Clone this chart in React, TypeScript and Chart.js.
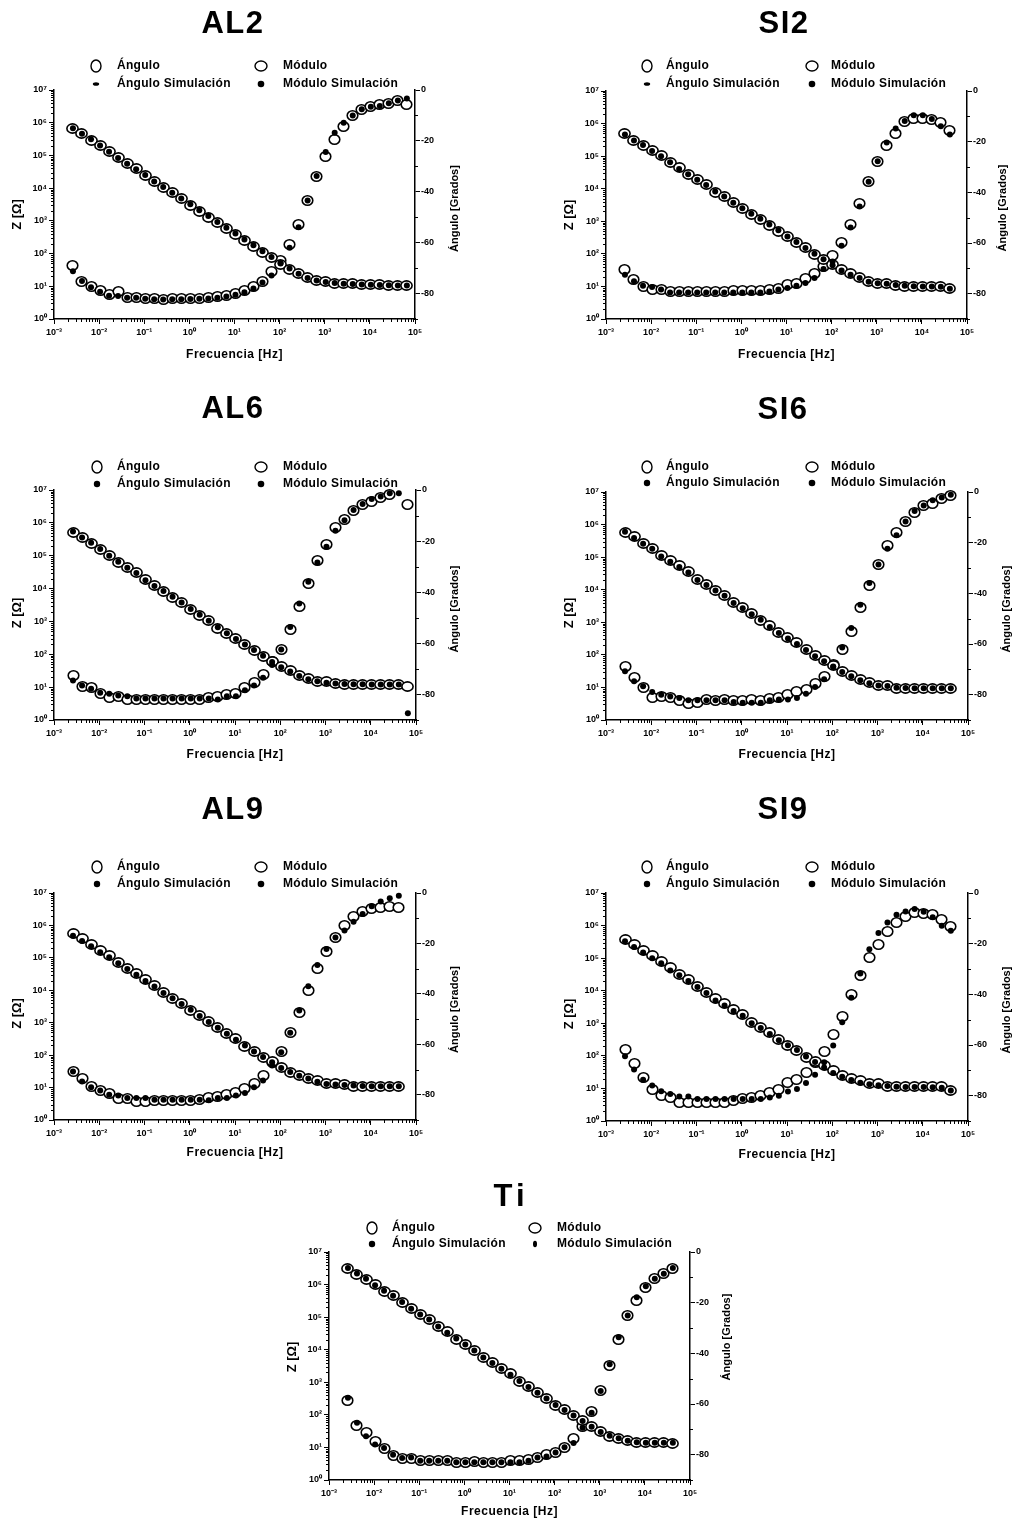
import React, { useEffect, useRef } from 'react';
import { Chart, registerables } from 'chart.js';

Chart.register(...registerables);

// ---------------- DATA ----------------
const FREQ = [0.00263, 0.00417, 0.00661, 0.0105, 0.0166, 0.0263, 0.0417, 0.0661, 0.105, 0.166, 0.263, 0.417, 0.661, 1.05, 1.66, 2.63, 4.17, 6.61, 10.5, 16.6, 26.3, 41.7, 66.1, 105, 166, 263, 417, 661, 1050, 1660, 2630, 4170, 6610, 10500, 16600, 26300, 41700, 66100];

const X_TICKS = [1e-3, 1e-2, 1e-1, 1, 10, 100, 1e3, 1e4, 1e5];
const Z_TICKS = [1, 10, 100, 1e3, 1e4, 1e5, 1e6, 1e7];
const ANG_TICKS = [-80, -60, -40, -20, 0];
const ANG_MINOR = [-90, -70, -50, -30, -10];
const LEGEND_LABELS = ['Ángulo', 'Módulo', 'Ángulo Simulación', 'Módulo Simulación'];
const X_TITLE = 'Frecuencia [Hz]';
const Z_TITLE = 'Z [Ω]';
const ANG_TITLE = 'Ángulo [Grados]';

const AL2_MOD = [6.5e5, 4.6e5, 2.95e5, 1.95e5, 1.32e5, 8.5e4, 5.75e4, 3.9e4, 2.4e4, 1.58e4, 1.07e4, 7.2e3, 4.9e3, 2.9e3, 1.9e3, 1.29e3, 890, 575, 370, 250, 162, 110, 76, 47, 33, 25, 18.6, 15.5, 14.5, 12.3, 12.3, 12.3, 11.5, 11.5, 11.5, 10.7, 10.7, 10.7];
const AL2_MOD_SIM = [6.8e5, 4.6e5, 3.1e5, 2.0e5, 1.3e5, 8.4e4, 5.6e4, 3.8e4, 2.5e4, 1.6e4, 1.08e4, 7.2e3, 4.8e3, 3.2e3, 2.1e3, 1.4e3, 930, 620, 410, 270, 180, 118, 78, 50, 35, 24, 18, 15, 13.5, 12.5, 12, 11.7, 11.4, 11.2, 11, 10.8, 10.6, 10.5];
const AL2_ANG = [-69.0, -75.1, -77.1, -78.8, -80.4, -79.3, -81.4, -81.4, -82.1, -82.1, -82.4, -82.1, -82.1, -82.1, -82.0, -81.7, -81.0, -80.7, -80.0, -78.8, -77.4, -75.4, -71.2, -67.0, -60.7, -52.9, -43.4, -33.8, -26.0, -19.4, -14.2, -10.2, -7.6, -6.6, -5.6, -5.2, -4.1, -5.6];
const AL2_ANG_SIM = [-71.2, -75.1, -77.5, -79.3, -80.9, -81.0, -81.6, -81.6, -82.0, -82.2, -82.3, -82.2, -82.2, -82.1, -82.0, -81.9, -81.6, -81.2, -80.5, -79.5, -78.0, -75.7, -72.9, -68.0, -62.0, -53.9, -43.4, -33.8, -24.4, -16.8, -12.9, -10.0, -7.6, -6.6, -6.3, -5.2, -4.1, -3.3];

const SI2_MOD = [5.1e5, 3.1e5, 2.15e5, 1.5e5, 1.02e5, 6.3e4, 4.4e4, 2.8e4, 1.95e4, 1.35e4, 7.9e3, 5.6e3, 3.8e3, 2.45e3, 1.6e3, 1.15e3, 760, 500, 350, 225, 158, 98, 68, 46, 33, 25, 18.6, 14.5, 12.3, 12.3, 11, 9.8, 9.8, 9.8, 9.8, 9.8, 8.5];
const SI2_MOD_SIM = [4.6e5, 3.0e5, 2.2e5, 1.45e5, 1.0e5, 6.5e4, 4.0e4, 2.8e4, 1.9e4, 1.3e4, 8.2e3, 5.8e3, 3.7e3, 2.5e3, 1.7e3, 1.2e3, 800, 530, 340, 230, 150, 100, 68, 45, 31, 23, 18, 14, 12.5, 12, 11, 10.5, 10.2, 10, 10, 9.8, 8.5];
const SI2_ANG = [-70.3, -74.5, -77.1, -78.4, -78.4, -79.1, -79.1, -79.1, -79.1, -79.1, -79.1, -79.1, -78.8, -78.8, -78.8, -78.8, -78.2, -77.8, -76.5, -75.8, -74.2, -72.1, -69.2, -65.0, -59.8, -52.5, -44.3, -35.8, -27.9, -21.6, -16.8, -12.2, -10.9, -10.9, -11.1, -12.6, -15.7];
const SI2_ANG_SIM = [-72.5, -75.1, -76.9, -77.4, -78.4, -79.5, -79.5, -79.5, -79.5, -79.5, -79.5, -79.5, -79.5, -79.5, -79.5, -79.5, -79.1, -78.4, -77.8, -76.9, -75.8, -73.8, -70.3, -67.3, -61.1, -53.9, -45.6, -35.8, -27.7, -20.3, -14.8, -11.8, -9.6, -9.6, -11.1, -13.9, -17.2];

const AL6_MOD = [5.25e5, 3.47e5, 2.4e5, 1.51e5, 1.02e5, 6.3e4, 4.5e4, 3.0e4, 1.86e4, 1.26e4, 8.3e3, 5.5e3, 3.7e3, 2.3e3, 1.55e3, 1.07e3, 630, 430, 300, 200, 132, 83, 59, 42, 31, 22, 18, 15, 14.5, 12.9, 12, 12, 12, 12, 12, 12, 12, 10.2];
const AL6_MOD_SIM = [5.5e5, 3.6e5, 2.5e5, 1.6e5, 1.0e5, 6.5e4, 4.3e4, 3.0e4, 1.8e4, 1.2e4, 8.5e3, 5.6e3, 3.8e3, 2.4e3, 1.6e3, 1.05e3, 660, 440, 290, 200, 135, 90, 58, 40, 30, 22, 17.5, 15, 13.5, 13, 12.5, 12.3, 12.2, 12.1, 12, 12, 12, 1.6];
const AL6_ANG = [-72.4, -76.7, -77.4, -79.7, -81.3, -80.7, -82.0, -82.0, -82.0, -82.0, -82.0, -82.0, -82.0, -82.0, -82.0, -81.3, -80.7, -80.0, -79.6, -77.4, -75.4, -72.2, -67.2, -62.4, -54.5, -45.6, -36.6, -27.5, -21.2, -14.6, -11.4, -8.1, -5.5, -4.4, -2.9, -1.8, null, -5.5];
const AL6_ANG_SIM = [-74.5, -76.5, -77.8, -79.3, -79.7, -80.4, -80.7, -81.6, -81.6, -81.6, -81.6, -81.6, -81.6, -81.6, -81.6, -81.6, -82.0, -80.7, -80.7, -78.4, -76.5, -73.5, -68.5, -62.4, -53.6, -44.4, -35.9, -28.4, -22.2, -15.9, -11.8, -7.8, -5.5, -3.5, -2.5, -1.3, -1.3, null];

const SI6_MOD = [5.75e5, 4.3e5, 2.6e5, 1.8e5, 1.12e5, 7.8e4, 5.5e4, 3.7e4, 2.1e4, 1.45e4, 9.8e3, 6.6e3, 4.0e3, 2.8e3, 1.86e3, 1.15e3, 780, 490, 350, 240, 145, 95, 68, 47, 30, 23.5, 17.4, 13.8, 11.7, 11.7, 9.5, 9.5, 9.5, 9.5, 9.5, 9.5, 9.5];
const SI6_MOD_SIM = [6.0e5, 3.9e5, 2.6e5, 1.8e5, 1.05e5, 7.2e4, 5.0e4, 3.4e4, 2.0e4, 1.4e4, 9.5e3, 6.5e3, 3.9e3, 2.7e3, 1.75e3, 1.2e3, 720, 470, 320, 215, 140, 90, 64, 44, 30, 22, 16.5, 13.5, 11.5, 11, 9.8, 9.6, 9.5, 9.5, 9.5, 9.5, 9.5];
const SI6_ANG = [-68.7, -73.4, -77.0, -81.3, -80.9, -81.3, -82.2, -83.3, -82.9, -82.0, -82.2, -81.8, -82.2, -82.2, -81.8, -82.2, -81.6, -81.3, -80.0, -78.7, -77.9, -75.7, -72.8, -68.2, -62.1, -54.9, -45.7, -36.8, -28.6, -21.1, -15.8, -11.6, -7.9, -5.5, -4.6, -2.4, -1.3];
const SI6_ANG_SIM = [-70.8, -74.7, -76.7, -78.9, -80.0, -80.7, -81.3, -82.2, -82.2, -82.2, -82.2, -82.2, -82.9, -83.2, -83.2, -83.2, -82.2, -81.9, -81.9, -81.3, -79.6, -77.0, -73.9, -69.1, -61.4, -53.7, -44.5, -35.9, -28.6, -22.4, -17.1, -11.6, -7.5, -5.3, -3.3, -2.2, -1.1];

const AL9_MOD = [5.5e5, 4.0e5, 2.5e5, 1.7e5, 1.15e5, 7.1e4, 4.8e4, 3.2e4, 2.1e4, 1.38e4, 8.5e3, 5.6e3, 4.0e3, 2.45e3, 1.66e3, 1.07e3, 720, 480, 316, 186, 132, 87, 62, 41, 30, 24, 19, 16, 13.2, 13.2, 12.3, 11, 11, 11, 11, 11, 11];
const AL9_MOD_SIM = [4.8e5, 3.3e5, 2.3e5, 1.5e5, 1.05e5, 6.8e4, 4.5e4, 3.0e4, 1.95e4, 1.3e4, 8.3e3, 5.7e3, 3.8e3, 2.5e3, 1.6e3, 1.05e3, 700, 460, 300, 200, 130, 88, 60, 40, 30, 23, 19, 15, 13, 12.5, 12, 11.5, 11.2, 11, 11, 11, 11];
const AL9_ANG = [-70.8, -73.4, -76.7, -78.5, -79.6, -81.6, -81.3, -82.6, -82.6, -82.2, -82.2, -82.2, -82.2, -82.2, -82.0, -80.9, -80.7, -79.9, -78.9, -77.6, -75.4, -72.3, -67.1, -62.8, -55.4, -47.3, -38.7, -30.1, -23.2, -17.6, -12.9, -9.2, -7.4, -6.3, -5.7, -5.3, -5.9];
const AL9_ANG_SIM = [-70.8, -74.7, -77.0, -78.3, -80.0, -80.3, -81.3, -81.3, -81.3, -82.0, -82.0, -82.0, -82.0, -82.0, -82.0, -82.2, -81.3, -81.3, -80.3, -79.3, -77.0, -74.3, -68.4, -63.1, -55.4, -46.6, -37.0, -28.5, -22.2, -17.6, -14.9, -11.4, -8.3, -5.3, -3.4, -2.1, -1.1];

const SI9_MOD = [3.7e5, 2.6e5, 1.7e5, 1.2e5, 7.9e4, 5.0e4, 3.2e4, 2.2e4, 1.38e4, 9.1e3, 5.8e3, 4.0e3, 2.6e3, 1.8e3, 1.07e3, 720, 510, 316, 214, 141, 87, 69, 49, 35, 25, 20, 17, 13.8, 13.8, 11.7, 11.2, 11.2, 11.2, 11.2, 11.2, 11.2, 8.9];
const SI9_MOD_SIM = [3.3e5, 2.2e5, 1.5e5, 1.0e5, 7.0e4, 4.2e4, 3.0e4, 2.0e4, 1.3e4, 8.5e3, 5.0e3, 3.5e3, 2.4e3, 1.7e3, 1.0e3, 720, 470, 300, 210, 150, 95, 65, 44, 30, 23, 18, 15, 13.5, 12.5, 11.8, 11.2, 11, 11, 11, 10.8, 10.5, 8.7];
const SI9_ANG = [-61.8, -67.3, -72.7, -77.4, -79.9, -80.9, -82.6, -82.6, -82.6, -82.6, -82.6, -82.6, -82.0, -81.3, -80.9, -80.0, -78.9, -77.6, -74.7, -73.7, -70.8, -67.1, -62.4, -55.8, -48.6, -40.0, -32.7, -25.5, -20.2, -15.3, -11.6, -9.2, -7.7, -7.9, -8.6, -10.6, -13.3];
const SI9_ANG_SIM = [-64.4, -69.7, -73.7, -76.0, -78.3, -79.3, -80.3, -80.3, -81.3, -81.3, -81.3, -81.3, -81.3, -81.3, -81.3, -81.3, -80.7, -80.0, -78.4, -77.4, -75.0, -71.7, -66.8, -60.2, -51.0, -41.3, -31.8, -22.2, -15.8, -11.6, -8.6, -7.3, -6.3, -7.4, -9.6, -12.9, -14.9];

const TI_MOD = [3.1e6, 2.1e6, 1.4e6, 1.0e6, 6.3e5, 4.7e5, 2.8e5, 1.8e5, 1.23e5, 8.5e4, 5.0e4, 3.5e4, 2.1e4, 1.48e4, 9.8e3, 5.8e3, 4.0e3, 2.6e3, 1.8e3, 1.07e3, 760, 490, 316, 200, 141, 93, 66, 44, 30, 22.4, 19, 16.2, 14.1, 14.1, 14.1, 14.1, 13.2];
const TI_MOD_SIM = [3.2e6, 2.2e6, 1.5e6, 9.5e5, 6.5e5, 4.5e5, 2.9e5, 1.8e5, 1.2e5, 8.5e4, 5.2e4, 3.3e4, 2.2e4, 1.45e4, 9.5e3, 5.8e3, 3.9e3, 2.6e3, 1.7e3, 1.1e3, 720, 480, 320, 200, 140, 95, 65, 43, 30, 23, 19, 16, 14.5, 14, 14, 14, 14];
const TI_ANG = [-58.8, -68.5, -71.4, -74.7, -77.4, -80.4, -81.7, -81.7, -82.4, -82.4, -82.4, -82.4, -83.0, -83.0, -82.6, -83.0, -83.0, -83.0, -82.4, -82.4, -82.0, -81.1, -80.0, -79.1, -77.1, -73.8, -69.0, -62.8, -54.6, -44.7, -34.6, -25.1, -19.2, -13.9, -10.6, -8.6, -6.6];
const TI_ANG_SIM = [-57.5, -67.4, -72.7, -76.0, -77.4, -80.0, -81.3, -81.1, -82.4, -82.4, -82.4, -82.4, -83.0, -83.0, -83.0, -83.0, -83.0, -83.0, -83.0, -83.0, -82.4, -81.1, -80.7, -79.1, -77.1, -75.4, -69.4, -63.5, -54.9, -44.3, -33.7, -25.1, -17.9, -13.5, -10.6, -8.6, -6.3];

// ---------------- LAYOUT ----------------
type Panel = {
  title: string;
  mod: (number | null)[]; modSim: (number | null)[]; ang: (number | null)[]; angSim: (number | null)[];
  plot: [number, number, number, number];
  tx: number; ty: number;
  rows: [number, number]; marks: [number, number]; texts: [number, number];
  zy: number; ax: number; ay: number; fy: number; xh: number; dash: boolean; ti: boolean;
};

const PANELS: Panel[] = [
  { title: 'AL2', mod: AL2_MOD, modSim: AL2_MOD_SIM, ang: AL2_ANG, angSim: AL2_ANG_SIM, plot: [54, 90, 415, 319], tx: 233, ty: 24, rows: [66, 84], marks: [96, 261], texts: [117, 283], zy: 10, ax: 40, ay: 4, fy: 36, xh: 44, dash: true, ti: false },
  { title: 'SI2', mod: SI2_MOD, modSim: SI2_MOD_SIM, ang: SI2_ANG, angSim: SI2_ANG_SIM, plot: [606, 91, 967, 319], tx: 784, ty: 24, rows: [66, 84], marks: [647, 812], texts: [666, 831], zy: 10, ax: 36, ay: 3, fy: 36, xh: 44, dash: true, ti: false },
  { title: 'AL6', mod: AL6_MOD, modSim: AL6_MOD_SIM, ang: AL6_ANG, angSim: AL6_ANG_SIM, plot: [54, 490, 416, 720], tx: 233, ty: 409, rows: [467, 484], marks: [97, 261], texts: [117, 283], zy: 8, ax: 39, ay: 4, fy: 35, xh: 44, dash: false, ti: false },
  { title: 'SI6', mod: SI6_MOD, modSim: SI6_MOD_SIM, ang: SI6_ANG, angSim: SI6_ANG_SIM, plot: [606, 492, 968, 720], tx: 783, ty: 410, rows: [467, 483], marks: [647, 812], texts: [666, 831], zy: 7, ax: 39, ay: 3, fy: 35, xh: 44, dash: false, ti: false },
  { title: 'AL9', mod: AL9_MOD, modSim: AL9_MOD_SIM, ang: AL9_ANG, angSim: AL9_ANG_SIM, plot: [54, 893, 416, 1120], tx: 233, ty: 810, rows: [867, 884], marks: [97, 261], texts: [117, 283], zy: 7, ax: 39, ay: 3, fy: 33, xh: 44, dash: false, ti: false },
  { title: 'SI9', mod: SI9_MOD, modSim: SI9_MOD_SIM, ang: SI9_ANG, angSim: SI9_ANG_SIM, plot: [606, 893, 968, 1121], tx: 783, ty: 810, rows: [867, 884], marks: [647, 812], texts: [666, 831], zy: 7, ax: 39, ay: 3, fy: 34, xh: 44, dash: false, ti: false },
  { title: 'Ti', mod: TI_MOD, modSim: TI_MOD_SIM, ang: TI_ANG, angSim: TI_ANG_SIM, plot: [329, 1252, 690, 1480], tx: 511, ty: 1197, rows: [1228, 1244], marks: [372, 535], texts: [392, 557], zy: -9, ax: 37, ay: -29, fy: 32, xh: 40, dash: false, ti: true },
];

const FONT = '"Liberation Sans", Arial, Helvetica, sans-serif';
const SUP: Record<string, string> = { '-': '⁻', '0': '⁰', '1': '¹', '2': '²', '3': '³', '4': '⁴', '5': '⁵', '6': '⁶', '7': '⁷', '8': '⁸', '9': '⁹' };
const powLabel = (v: number) => '10' + String(Math.round(Math.log10(v))).split('').map((c) => SUP[c] || c).join('');

function makeEllipse(rx: number, ry: number, lw: number) {
  const c = document.createElement('canvas');
  c.width = Math.ceil(2 * rx + lw + 2);
  c.height = Math.ceil(2 * ry + lw + 2);
  const g = c.getContext('2d')!;
  g.beginPath();
  g.ellipse(c.width / 2, c.height / 2, rx, ry, 0, 0, Math.PI * 2);
  g.fillStyle = '#fff';
  g.fill();
  g.lineWidth = lw;
  g.strokeStyle = '#000';
  g.stroke();
  return c;
}

function drawMark(ctx: CanvasRenderingContext2D, x: number, y: number, rx: number, ry: number, filled: boolean) {
  ctx.beginPath();
  ctx.ellipse(x, y, rx, ry, 0, 0, Math.PI * 2);
  if (filled) {
    ctx.fillStyle = '#000';
    ctx.fill();
  } else {
    ctx.fillStyle = '#fff';
    ctx.fill();
    ctx.lineWidth = 1.4;
    ctx.strokeStyle = '#000';
    ctx.stroke();
  }
}

const toPts = (vals: (number | null)[]) =>
  vals.map((v, i) => (v == null ? null : { x: FREQ[i], y: v })).filter((p) => p !== null) as { x: number; y: number }[];

function BodePanel({ p }: { p: Panel }) {
  const ref = useRef<HTMLCanvasElement>(null);
  const [l, t, r, b] = p.plot;
  const cl = l - 54;
  const ct = Math.max(0, p.ty - 22);
  const cw = 54 + (r - l) + 47;
  const ch = b + p.xh - ct;

  useEffect(() => {
    const canvas = ref.current!;
    const modImg = makeEllipse(5.6, 4.6, 1.6);
    const angImg = makeEllipse(5.3, 4.7, 1.6);

    const crisp = {
      id: 'crispPoints',
      beforeDatasetsDraw(chart: any) { chart.ctx.imageSmoothingEnabled = false; },
      afterDatasetsDraw(chart: any) { chart.ctx.imageSmoothingEnabled = true; },
    };

    const deco = {
      id: 'bodeDeco',
      afterDraw(chart: any) {
        const ctx: CanvasRenderingContext2D = chart.ctx;
        const { left, right, top, bottom } = chart.chartArea;
        const xs = chart.scales.x, ys = chart.scales.y, y1 = chart.scales.y1;
        ctx.save();
        ctx.strokeStyle = '#000';
        ctx.lineWidth = 1;
        // minor ticks
        for (let d = -3; d < 5; d++) {
          for (let m = 2; m < 10; m++) {
            const px = Math.round(xs.getPixelForValue(m * Math.pow(10, d))) + 0.5;
            ctx.beginPath(); ctx.moveTo(px, bottom); ctx.lineTo(px, bottom + 3); ctx.stroke();
          }
        }
        for (let d = 0; d < 7; d++) {
          for (let m = 2; m < 10; m++) {
            const py = Math.round(ys.getPixelForValue(m * Math.pow(10, d))) + 0.5;
            ctx.beginPath(); ctx.moveTo(left - 3, py); ctx.lineTo(left, py); ctx.stroke();
          }
        }
        ANG_MINOR.forEach((v) => {
          const py = Math.round(y1.getPixelForValue(v)) + 0.5;
          ctx.beginPath(); ctx.moveTo(right, py); ctx.lineTo(right + 3, py); ctx.stroke();
        });

        ctx.fillStyle = '#000';
        // title
        ctx.font = `bold 31px ${FONT}`;
        (ctx as any).letterSpacing = p.ti ? '4px' : '1.5px';
        ctx.textAlign = 'center';
        ctx.textBaseline = 'middle';
        ctx.fillText(p.title, p.tx - cl, p.ty - ct);

        // legend
        const [r1, r2] = p.rows.map((v) => v - ct);
        const [m1, m2] = p.marks.map((v) => v - cl);
        const [t1, t2] = p.texts.map((v) => v - cl);
        drawMark(ctx, m1, r1, 5, 6, false);
        drawMark(ctx, m2, r1, 6, 5, false);
        if (p.dash) drawMark(ctx, m1, r2, 3.2, 1.8, true);
        else drawMark(ctx, m1, r2, 3.2, 3.2, true);
        if (p.ti) drawMark(ctx, m2, r2, 2, 3.3, true);
        else drawMark(ctx, m2, r2, 3.3, 3.3, true);
        ctx.fillStyle = '#000';
        ctx.font = `bold 12px ${FONT}`;
        (ctx as any).letterSpacing = '0.3px';
        ctx.textAlign = 'left';
        ctx.fillText(LEGEND_LABELS[0], t1, r1);
        ctx.fillText(LEGEND_LABELS[1], t2, r1);
        ctx.fillText(LEGEND_LABELS[2], t1, r2);
        ctx.fillText(LEGEND_LABELS[3], t2, r2);

        // axis titles
        const midY = (top + bottom) / 2;
        ctx.textAlign = 'center';
        ctx.font = `bold 12px ${FONT}`;
        (ctx as any).letterSpacing = '0.5px';
        ctx.fillText(X_TITLE, (left + right) / 2, bottom + p.fy);

        (ctx as any).letterSpacing = '0px';
        ctx.font = `bold 13px ${FONT}`;
        ctx.save();
        ctx.translate(left - 37, midY + p.zy);
        ctx.rotate(-Math.PI / 2);
        ctx.fillText(Z_TITLE, 0, 0);
        ctx.restore();

        ctx.font = `bold 11px ${FONT}`;
        ctx.save();
        ctx.translate(right + p.ax, midY + p.ay);
        ctx.rotate(-Math.PI / 2);
        ctx.fillText(ANG_TITLE, 0, 0);
        ctx.restore();

        ctx.restore();
      },
    };

    const tickFont = { family: FONT, size: 9, weight: 'bold' as const };
    const grid = { display: true, drawOnChartArea: false, drawTicks: true, tickLength: 5, color: '#000', lineWidth: 1 };
    const border = { display: true, color: '#000', width: 1.5 };
    const simStyle = { pointStyle: 'circle', pointRadius: 3, pointBackgroundColor: '#000', pointBorderColor: '#000', pointBorderWidth: 0 };

    const chart = new Chart(canvas, {
      type: 'scatter',
      data: {
        datasets: [
          { label: LEGEND_LABELS[3], data: toPts(p.modSim), yAxisID: 'y', order: 0, clip: false, ...simStyle } as any,
          { label: LEGEND_LABELS[2], data: toPts(p.angSim), yAxisID: 'y1', order: 0, clip: false, ...simStyle } as any,
          { label: LEGEND_LABELS[1], data: toPts(p.mod), yAxisID: 'y', order: 1, clip: false, pointStyle: modImg, pointRadius: 6 } as any,
          { label: LEGEND_LABELS[0], data: toPts(p.ang), yAxisID: 'y1', order: 1, clip: false, pointStyle: angImg, pointRadius: 6 } as any,
        ],
      },
      options: {
        responsive: false,
        animation: false,
        devicePixelRatio: 1,
        events: [],
        layout: { padding: { top: t - ct, left: 0, right: 0, bottom: 0 } },
        plugins: { legend: { display: false }, tooltip: { enabled: false }, title: { display: false } },
        scales: {
          x: {
            type: 'logarithmic', position: 'bottom', min: 1e-3, max: 1e5,
            afterFit: (s: any) => { s.height = p.xh; },
            afterBuildTicks: (s: any) => { s.ticks = X_TICKS.map((v) => ({ value: v })); },
            ticks: { autoSkip: false, maxRotation: 0, minRotation: 0, padding: 3, color: '#000', font: tickFont, callback: (v: any) => powLabel(Number(v)) },
            grid, border,
          },
          y: {
            type: 'logarithmic', position: 'left', min: 1, max: 1e7,
            afterFit: (s: any) => { s.width = 54; },
            afterBuildTicks: (s: any) => { s.ticks = Z_TICKS.map((v) => ({ value: v })); },
            ticks: { autoSkip: false, padding: 2, color: '#000', font: tickFont, callback: (v: any) => powLabel(Number(v)) },
            grid, border,
          },
          y1: {
            type: 'linear', position: 'right', min: -90, max: 0,
            afterFit: (s: any) => { s.width = 47; },
            afterBuildTicks: (s: any) => { s.ticks = ANG_TICKS.map((v) => ({ value: v })); },
            ticks: { autoSkip: false, padding: 1, color: '#000', font: tickFont, callback: (v: any) => String(v) },
            grid, border,
          },
        },
      } as any,
      plugins: [crisp, deco],
    });
    return () => chart.destroy();
  }, []);

  return <canvas ref={ref} width={cw} height={ch} style={{ position: 'absolute', left: cl, top: ct, width: cw, height: ch }} />;
}

export default function App() {
  return (
    <div style={{ position: 'absolute', left: 0, top: 0, width: 1015, height: 1521, overflow: 'hidden', background: '#fff' }}>
      {PANELS.map((p) => (
        <BodePanel key={p.title} p={p} />
      ))}
    </div>
  );
}
